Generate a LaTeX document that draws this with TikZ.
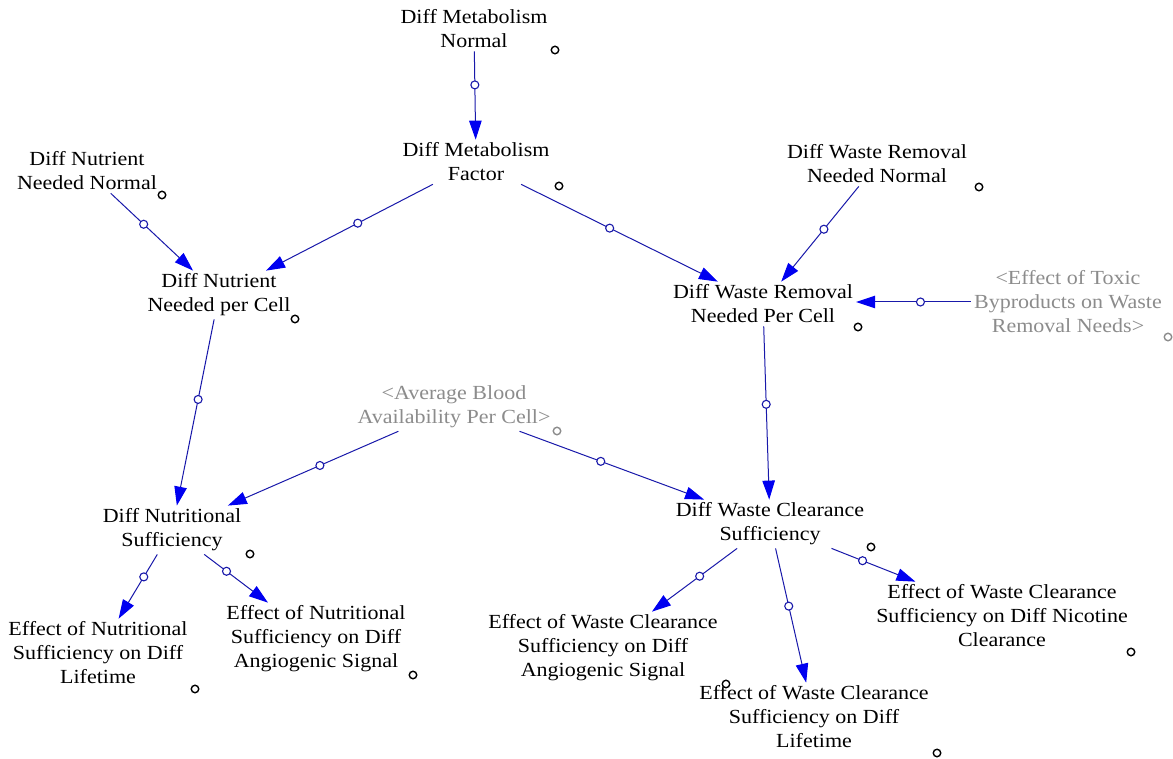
\documentclass[tikz,border=0pt]{standalone}
\usepackage{fontspec}
\setmainfont{Liberation Serif}[FakeStretch=1.1]
\usetikzlibrary{arrows.meta}
\definecolor{linkc}{RGB}{25,25,170}
\definecolor{arrc}{RGB}{0,0,240}
\definecolor{shadowc}{RGB}{140,140,140}
\tikzset{
 var/.style={align=center, font=\fontsize{20}{24}\selectfont, inner sep=3pt, text=black},
 shadowvar/.style={var, text=shadowc},
 link/.style={draw=linkc, line width=1pt, -{Triangle[length=19pt,width=12.5pt,fill=arrc,color=arrc]}},
 handle/.style={circle, draw=linkc, fill=white, line width=1.1pt, minimum size=8pt, inner sep=0pt},
 varmark/.style={circle, draw=black, fill=white, line width=1.4pt, minimum size=7.5pt, inner sep=0pt},
 shmark/.style={varmark, draw=shadowc},
}
\begin{document}
\begin{tikzpicture}[x=1pt,y=-1pt]
\useasboundingbox[fill=white] (0,0) rectangle (1173,759);
% variables
\node[var] (dmn) at (474,29) {Diff Metabolism\\Normal};
\node[var] (dmf) at (476,162) {Diff Metabolism\\Factor};
\node[var] (dnnn) at (87,171) {Diff Nutrient\\Needed Normal};
\node[var] (dnnpc) at (219,295) {Diff Nutrient\\Needed per Cell};
\node[var] (dwrnn) at (877,164) {Diff Waste Removal\\Needed Normal};
\node[var] (dwrnpc) at (763,304) {Diff Waste Removal\\Needed Per Cell};
\node[shadowvar] (tox) at (1068,302) {<Effect of Toxic\\Byproducts on Waste\\Removal Needs>};
\node[shadowvar] (aba) at (454,407) {<Average Blood\\Availability Per Cell>};
\node[var] (dns) at (172,530) {Diff Nutritional\\Sufficiency};
\node[var] (dwcs) at (770,524) {Diff Waste Clearance\\Sufficiency};
\node[var] (ensdl) at (98,653) {Effect of Nutritional\\Sufficiency on Diff\\Lifetime};
\node[var] (ensdas) at (316,639) {Effect of Nutritional\\Sufficiency on Diff\\Angiogenic Signal};
\node[var] (ewcsdas) at (603,648) {Effect of Waste Clearance\\Sufficiency on Diff\\Angiogenic Signal};
\node[var] (ewcsdl) at (814,717) {Effect of Waste Clearance\\Sufficiency on Diff\\Lifetime};
\node[var] (ewcsdnc) at (1002,616) {Effect of Waste Clearance\\Sufficiency on Diff Nicotine\\Clearance};
% variable markers
\node[varmark] (m1) at (555,50) {};
\node[varmark] (m2) at (559,186) {};
\node[varmark] (m3) at (162,195) {};
\node[varmark] (m4) at (295,319) {};
\node[varmark] (m5) at (979,187) {};
\node[varmark] (m6) at (858,327) {};
\node[shmark] (m7) at (1168,337) {};
\node[shmark] (m8) at (557,431) {};
\node[varmark] (m9) at (250,554) {};
\node[varmark] (m10) at (871,547) {};
\node[varmark] (m11) at (195,689) {};
\node[varmark] (m12) at (413,675) {};
\node[varmark] (m13) at (726,684) {};
\node[varmark] (m14) at (937,753) {};
\node[varmark] (m15) at (1131,652) {};
% links
\draw[link] (dmn) -- node[handle,pos=0.38] (h1) {} (dmf);
\draw[link] (dmf) -- node[handle,pos=0.45] (h2) {} (dnnpc);
\draw[link] (dmf) -- node[handle,pos=0.45] (h3) {} (dwrnpc);
\draw[link] (dnnn) -- node[handle,pos=0.4] (h4) {} (dnnpc);
\draw[link] (dwrnn) -- node[handle,pos=0.45] (h5) {} (dwrnpc);
\draw[link] (tox.west) -- node[handle,pos=0.44] (h6) {} (dwrnpc.east |- tox.west);
\draw[link] (dnnpc) -- node[handle,pos=0.43] (h7) {} (dns);
\draw[link] (aba) -- node[handle,pos=0.46] (h8) {} (dns);
\draw[link] (aba) -- node[handle,pos=0.44] (h9) {} (dwcs);
\draw[link] (dwrnpc) -- node[handle,pos=0.45] (h10) {} (dwcs);
\draw[link] (dns) -- node[handle,pos=0.35] (h11) {} (ensdl);
\draw[link] (dns) -- node[handle,pos=0.35] (h12) {} (ensdas);
\draw[link] (dwcs) -- node[handle,pos=0.44] (h13) {} (ewcsdas);
\draw[link] (dwcs) -- node[handle,pos=0.43] (h14) {} (ewcsdl);
\draw[link] (dwcs) -- node[handle,pos=0.37] (h15) {} (ewcsdnc);
\end{tikzpicture}
\end{document}
